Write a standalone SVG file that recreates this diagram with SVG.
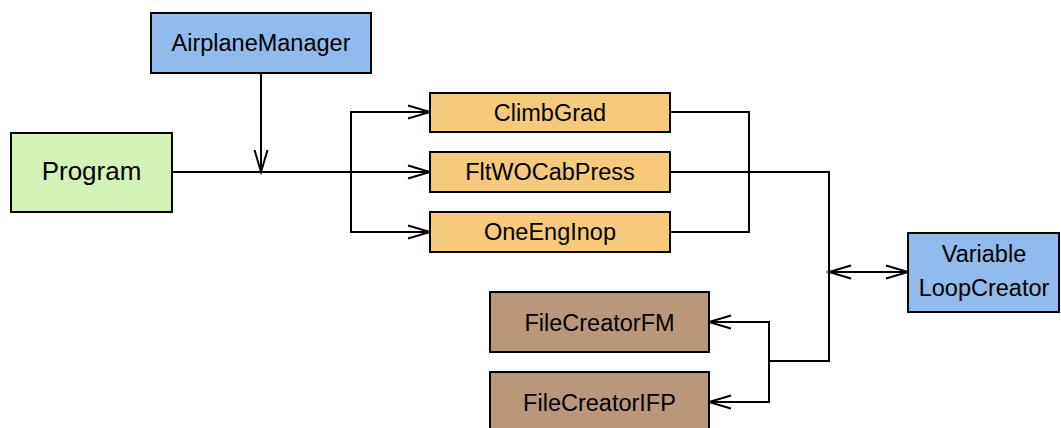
<svg xmlns="http://www.w3.org/2000/svg" width="1061" height="428" viewBox="0 0 1061 428">
<style>
.box{stroke:#000;stroke-width:2}
.blue{fill:#90bbec}
.green{fill:#d4f2b5}
.orange{fill:#f7c97b}
.brown{fill:#b9977a}
text{font-family:"Liberation Sans",Arial,sans-serif;font-size:23.5px;fill:#000;text-anchor:middle;dominant-baseline:central}
.c{fill:none;stroke:#000;stroke-width:2}
</style>
<defs>
<marker id="ah" markerUnits="userSpaceOnUse" markerWidth="30" markerHeight="20" viewBox="-24 -10 30 20" refX="0" refY="0" orient="auto-start-reverse">
<path d="M-22,-6.5 L0,0 L-22,6.5" fill="none" stroke="#000" stroke-width="2"/>
</marker>
</defs>
<rect width="1061" height="428" fill="#fff"/>
<g id="connectors">
<path class="c" d="M261,73 V172" marker-end="url(#ah)"/>
<path class="c" d="M172,172 H430" marker-end="url(#ah)"/>
<path class="c" d="M430,112 H351 V232 H430" marker-start="url(#ah)" marker-end="url(#ah)"/>
<path class="c" d="M670,112 H749 V232 H670"/>
<path class="c" d="M670,172 H829 V361 H769"/>
<path class="c" d="M730,172 H749"/>
<path class="c" d="M829,272 H908" marker-start="url(#ah)" marker-end="url(#ah)"/>
<path class="c" d="M709,322 H769 V402 H709" marker-start="url(#ah)" marker-end="url(#ah)"/>
</g>
<g id="AirplaneManager"><rect class="box blue" x="151" y="13" width="220" height="60"/><text x="261" y="43">AirplaneManager</text></g>
<g id="Program"><rect class="box green" x="11" y="133" width="161" height="79"/><text x="91.5" y="171" style="font-size:26px">Program</text></g>
<g id="ClimbGrad"><rect class="box orange" x="430" y="93" width="240" height="39"/><text x="550" y="113">ClimbGrad</text></g>
<g id="FltWOCabPress"><rect class="box orange" x="430" y="152" width="240" height="40"/><text x="550" y="172">FltWOCabPress</text></g>
<g id="OneEngInop"><rect class="box orange" x="430" y="212" width="240" height="40"/><text x="550" y="232">OneEngInop</text></g>
<g id="VariableLoopCreator"><rect class="box blue" x="908" y="233" width="151" height="79"/><text x="984" y="254">Variable</text><text x="984" y="288">LoopCreator</text></g>
<g id="FileCreatorFM"><rect class="box brown" x="490" y="292" width="219" height="60"/><text x="599.5" y="323">FileCreatorFM</text></g>
<g id="FileCreatorIFP"><rect class="box brown" x="490" y="372" width="219" height="62"/><text x="599.5" y="403">FileCreatorIFP</text></g>
</svg>
